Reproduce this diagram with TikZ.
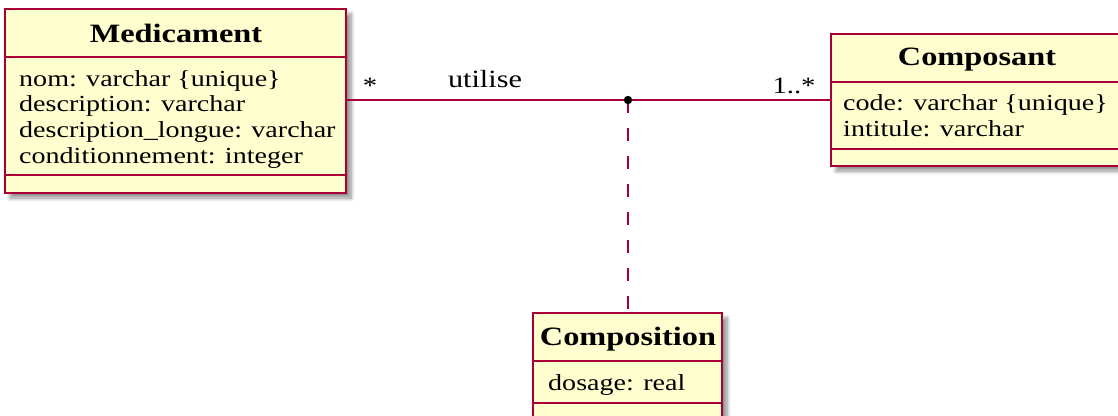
\documentclass[tikz,border=0pt]{standalone}
\usepackage{fontspec}
\setmainfont{Liberation Serif}[FakeStretch=1.22]
\usetikzlibrary{shadows,shadows.blur}
\definecolor{umlred}{HTML}{A80036}
\definecolor{umlfill}{HTML}{FEFECE}
\begin{document}
\begin{tikzpicture}[x=1pt,y=-1pt,
  classbox/.style={draw=umlred, fill=umlfill, line width=2.8pt, inner sep=0pt, outer sep=0pt, anchor=north west,
    blur shadow={shadow xshift=5pt, shadow yshift=-5pt, shadow blur steps=8, shadow blur radius=4pt, shadow opacity=45}},
  divider/.style={draw=umlred, line width=2.8pt},
  titletext/.style={anchor=base, inner sep=0pt, font=\fontsize{26.5}{30}\selectfont\bfseries},
  attr/.style={anchor=base west, inner sep=0pt, font=\fontsize{23}{26}\selectfont},
  assoc/.style={draw=umlred, line width=2pt},
  multlabel/.style={anchor=base, inner sep=0pt, font=\fontsize{23.5}{26}\selectfont},
  rolelabel/.style={anchor=base, inner sep=0pt, font=\fontsize{24.8}{28}\selectfont}
]
\useasboundingbox (0,0) rectangle (1118,415);
\clip (0,0) rectangle (1118,415);

% Medicament
\node[classbox, minimum width=341pt, minimum height=184pt] (med) at (5,9) {};
\draw[divider] (5,57) -- (346,57);
\draw[divider] (5,175) -- (346,175);
\node[titletext] (medt) at (176,42.5) {Medicament};
\node[attr] (meda1) at (19,86) {nom: varchar \{unique\}};
\node[attr] (meda2) at (19,111.7) {description: varchar};
\node[attr] (meda3) at (19,137.3) {description\_longue: varchar};
\node[attr] (meda4) at (19,163) {conditionnement: integer};

% Composant
\node[classbox, minimum width=291pt, minimum height=132pt] (cps) at (831,34) {};
\draw[divider] (831,82) -- (1122,82);
\draw[divider] (831,149) -- (1122,149);
\node[titletext] (cpst) at (977,65.7) {Composant};
\node[attr] (cpsa1) at (843,110.7) {code: varchar \{unique\}};
\node[attr] (cpsa2) at (843,136.7) {intitule: varchar};

% Composition
\node[classbox, minimum width=189pt, minimum height=130pt] (cmp) at (533,313) {};
\draw[divider] (533,361) -- (722,361);
\draw[divider] (533,403) -- (722,403);
\node[titletext] (cmpt) at (628,345) {Composition};
\node[attr] (cmpa1) at (548,390) {dosage: real};

% association
\coordinate (dot) at (628,100);
\draw[assoc] (dot -| med.east) -- (dot) -- (dot -| cps.west);
\draw[assoc, dash pattern=on 13pt off 15pt] (dot) -- (dot |- cmp.north);
\fill (dot) circle (4.2);

\node[multlabel] (m1) at (370,93) {*};
\node[rolelabel] (role) at (485,87) {utilise};
\node[multlabel] (m2) at (794,93) {1..*};
\end{tikzpicture}
\end{document}
